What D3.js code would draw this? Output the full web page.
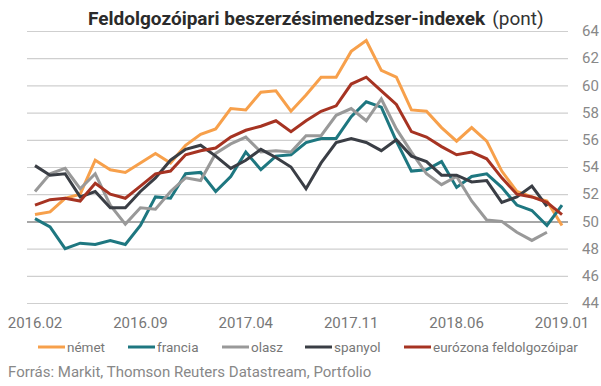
<!DOCTYPE html>
<html>
<head>
<meta charset="UTF-8">
<title>Feldolgozóipari beszerzésimenedzser-indexek</title>
<script src="https://d3js.org/d3.v7.min.js"></script>
<style>
  body { margin: 0; background: white; }
  svg text { font-family: Roboto, "Noto Sans", sans-serif; }
  .title { font-weight: 700; font-size: 19px; fill: #2b2b2b; }
  .unit { font-weight: 400; font-size: 19px; fill: #333; }
  .tick-y { font-size: 15px; fill: #888; }
  .tick-x { font-size: 15px; fill: #777; }
  .legend text { font-size: 13.5px; fill: #777; }
  .source { font-size: 15px; fill: #888; }
</style>
</head>
<body>
<div id="chart"></div>
<script>
const months = d3.timeMonth.range(new Date(2016, 1, 1), new Date(2019, 1, 1)).map(d3.timeFormat('%Y.%m'));
const xTicks = ['2016.02', '2016.09', '2017.04', '2017.11', '2018.06', '2019.01'];
const yTicks = [44, 46, 48, 50, 52, 54, 56, 58, 60, 62, 64];

const nemet = [50.5, 50.7, 51.7, 52.0, 54.5, 53.8, 53.6, 54.3, 55.0, 54.3, 55.6, 56.4, 56.8, 58.3, 58.2, 59.5, 59.6, 58.1, 59.3, 60.6, 60.6, 62.5, 63.3, 61.1, 60.6, 58.2, 58.1, 56.9, 55.9, 56.9, 55.9, 53.7, 52.2, 51.8, 51.5, 49.7];
const francia = [50.2, 49.6, 48.0, 48.4, 48.3, 48.6, 48.3, 49.7, 51.8, 51.7, 53.5, 53.6, 52.2, 53.3, 55.1, 53.8, 54.8, 54.9, 55.8, 56.1, 56.1, 57.7, 58.8, 58.4, 55.9, 53.7, 53.8, 54.4, 52.5, 53.3, 53.5, 52.5, 51.2, 50.8, 49.7, 51.2];
const olasz = [52.2, 53.5, 53.9, 52.4, 53.5, 51.2, 49.8, 51.0, 50.9, 52.2, 53.2, 53.0, 55.0, 55.7, 56.2, 55.1, 55.2, 55.1, 56.3, 56.3, 57.8, 58.3, 57.4, 59.0, 56.8, 55.1, 53.5, 52.7, 53.3, 51.5, 50.1, 50.0, 49.2, 48.6, 49.2];
const spanyol = [54.1, 53.4, 53.5, 51.8, 52.2, 51.0, 51.0, 52.2, 53.2, 54.5, 55.3, 55.6, 54.8, 53.9, 54.5, 55.3, 54.7, 54.0, 52.4, 54.3, 55.8, 56.1, 55.8, 55.2, 56.0, 54.8, 54.4, 53.4, 53.4, 52.9, 53.0, 51.4, 51.8, 52.6, 51.1];
const eurozona = [51.2, 51.6, 51.7, 51.5, 52.8, 52.0, 51.7, 52.6, 53.5, 53.7, 54.9, 55.2, 55.4, 56.2, 56.7, 57.0, 57.4, 56.6, 57.4, 58.1, 58.5, 60.1, 60.6, 59.6, 58.6, 56.6, 56.2, 55.5, 54.9, 55.1, 54.6, 53.2, 52.0, 51.8, 51.4, 50.5];

const seriesNames = ['német', 'francia', 'olasz', 'spanyol', 'eurózona feldolgozóipar'];
const seriesValues = [nemet, francia, olasz, spanyol, eurozona];
const colors = ['#F7A04B', '#1E7780', '#999999', '#3A3E45', '#A63322'];
const legendX = [38, 128, 222, 305, 404];

const width = 601, height = 386;

const svg = d3.select('#chart').append('svg')
  .attr('width', width)
  .attr('height', height);

const x = d3.scalePoint().domain(months).range([35, 562]);
const y = d3.scaleLinear().domain([44, 64]).range([303, 31]);

// grid
svg.append('g').selectAll('line')
  .data(yTicks)
  .enter()
  .append('line')
  .attr('x1', 27)
  .attr('x2', 568)
  .attr('y1', d => y(d) + 0.5)
  .attr('y2', d => y(d) + 0.5)
  .attr('stroke', d => d == 50 ? '#8a8a8a' : '#cfcfcf')
  .attr('stroke-width', d => d == 50 ? 1.5 : 1.2);

svg.append('g').selectAll('text')
  .data(yTicks)
  .enter()
  .append('text')
  .attr('class', 'tick-y')
  .attr('x', 582)
  .attr('y', d => y(d))
  .attr('dy', '0.35em')
  .text(d => d);

svg.append('g').selectAll('text')
  .data(xTicks)
  .enter()
  .append('text')
  .attr('class', 'tick-x')
  .attr('x', d => x(d))
  .attr('y', 328)
  .attr('text-anchor', 'middle')
  .text(d => d);

// lines
const line = d3.line()
  .x((d, i) => x(months[i]))
  .y(d => y(d));

svg.append('g').selectAll('path')
  .data(seriesValues)
  .enter()
  .append('path')
  .attr('d', line)
  .attr('fill', 'none')
  .attr('stroke', (d, i) => colors[i])
  .attr('stroke-width', 3)
  .attr('stroke-linejoin', 'miter');

// title
const title = svg.append('text')
  .attr('x', 88)
  .attr('y', 25);
title.append('tspan').attr('class', 'title').text('Feldolgozóipari beszerzésimenedzser-indexek');
title.append('tspan').attr('class', 'unit').attr('dx', 7).text('(pont)');

// legend
const legend = svg.append('g').attr('class', 'legend');
seriesNames.forEach((name, i) => {
  legend.append('line')
    .attr('x1', legendX[i])
    .attr('x2', legendX[i] + 27)
    .attr('y1', 347)
    .attr('y2', 347)
    .attr('stroke', colors[i])
    .attr('stroke-width', 3);
  legend.append('text')
    .attr('x', legendX[i] + 29)
    .attr('y', 347)
    .attr('dy', '0.35em')
    .text(name);
});

svg.append('text')
  .attr('class', 'source')
  .attr('x', 8)
  .attr('y', 377)
  .text('Forrás: Markit, Thomson Reuters Datastream, Portfolio');
</script>
</body>
</html>
